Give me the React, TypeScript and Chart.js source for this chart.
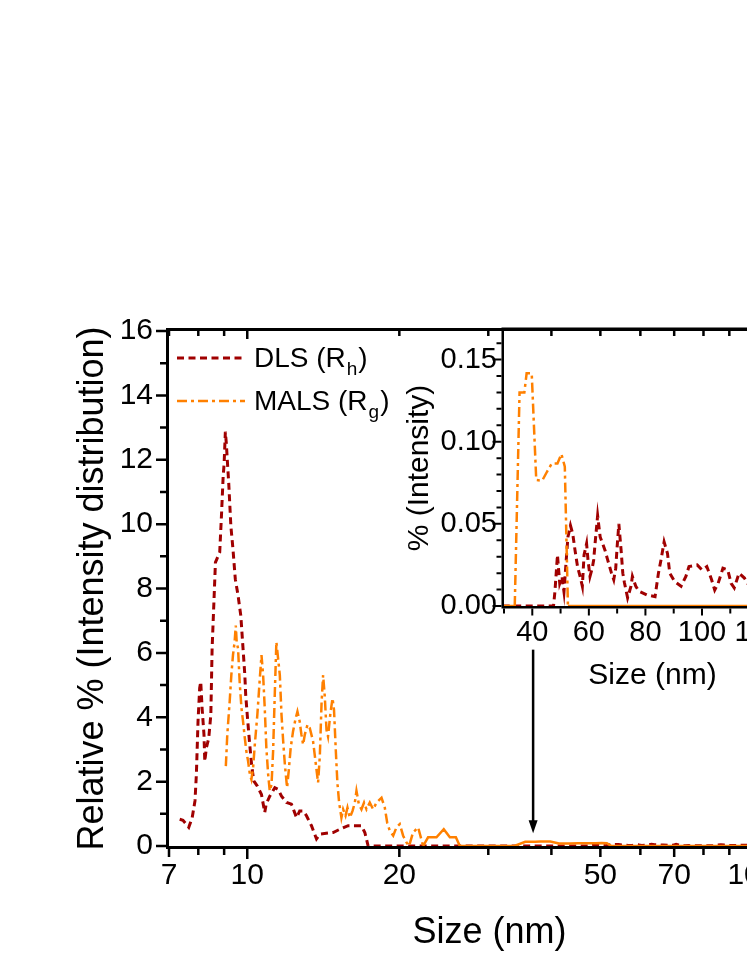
import React, { useEffect, useRef } from "react";
import { Chart, registerables } from "chart.js";

Chart.register(...registerables);

const FONT = '"Liberation Sans", Arial, Helvetica, sans-serif';
const DLS_COLOR = "#a00000";
const MALS_COLOR = "#ff8000";
const DLS_DASH = [7, 4.5];
const MALS_DASH = [10, 4, 3, 4];

// DLS (Rh) size distribution (nm, relative %)
const DLS_SIZE = [
  7.35, 7.46, 7.66, 7.78, 7.88, 7.93, 7.99, 8.05, 8.09, 8.14, 8.21, 8.24, 8.3, 8.39, 8.47, 8.52, 8.6, 8.65, 8.73,
  8.82, 8.89, 8.96, 9.0, 9.05, 9.09, 9.13, 9.19, 9.28, 9.37, 9.47, 9.59, 9.71, 9.81, 9.89, 9.93, 10.0, 10.1, 10.2,
  10.3, 10.47, 10.67, 10.83, 10.9, 11.08, 11.34, 11.51, 11.69, 11.96, 12.23, 12.52, 12.7, 12.9, 13.1, 13.4, 13.71,
  13.92, 14.79, 15.25, 15.84, 16.83, 17.09, 17.35, 30, 47.5,
  48.0, 48.9, 49.7, 50.5, 51.2, 52.0, 52.6, 53.5, 54.3, 55.1, 56.0, 56.9, 57.7, 58.3, 59.2, 59.7, 60.4, 61.2, 61.7,
  62.3, 63.1, 64.0, 65.7, 66.5, 68.0, 68.8, 69.5, 70.0, 70.6, 71.4, 72.0, 72.6, 73.7, 74.9, 75.4, 76.6, 77.7, 80.6,
  83.4, 84.6, 85.5, 86.6, 87.8, 88.6, 90.3, 92.6, 94.3, 95.4, 98.3, 100.0, 101.7, 103.4, 104.5, 105.7, 107.4, 109.1,
  110.3, 111.4, 113.1, 115.0, 117.5, 120.0, 123.0, 126.0, 129.0, 132.0, 135.0,
];
const DLS_INT = [
  0.83, 0.8, 0.58, 0.88, 1.4, 2.22, 3.87, 4.9, 5.1, 4.28, 3.46, 2.63, 3.05, 3.35, 4.07, 6.13, 7.78, 8.81, 8.96,
  9.12, 10.25, 11.48, 11.89, 12.87, 12.51, 12.0, 11.28, 9.94, 9.22, 8.29, 7.78, 7.16, 6.13, 5.31, 4.69, 4.07, 3.25, 2.53,
  2.02, 1.86, 1.6, 1.04, 1.3, 1.55, 1.81, 1.76, 1.55, 1.35, 1.3, 0.88, 1.09, 1.09, 0.94, 0.63, 0.22,
  0.37, 0.42, 0.52, 0.63, 0.63, 0.42, 0, 0, 0,
  0.0087, 0.031, 0.0138, 0.0179, 0.0087, 0.028, 0.042, 0.049, 0.044, 0.034, 0.024, 0.018, 0.012, 0.031, 0.038, 0.028,
  0.018, 0.023, 0.028, 0.04, 0.055, 0.042, 0.034, 0.029, 0.02, 0.016, 0.023, 0.036, 0.05, 0.034, 0.02, 0.014, 0.005,
  0.012, 0.018, 0.012, 0.009, 0.0067, 0.0057, 0.02, 0.028, 0.039, 0.032, 0.02, 0.015, 0.012, 0.018, 0.024, 0.025,
  0.022, 0.024, 0.016, 0.0097, 0.0138, 0.023, 0.022, 0.0138, 0.011, 0.02, 0.017, 0.01, 0.016, 0.021, 0.012, 0.018,
  0.01, 0.014,
];

// MALS (Rg) size distribution (nm, relative %)
const MALS_SIZE = [
  9.07, 9.13, 9.23, 9.3, 9.37, 9.44, 9.49, 9.53, 9.59, 9.66, 9.74, 9.81, 9.89, 9.96, 10.04, 10.12, 10.19, 10.27,
  10.35, 10.47, 10.59, 10.67, 10.75, 10.83, 10.91, 11.0, 11.08, 11.17, 11.25, 11.34, 11.42, 11.51, 11.6, 11.69,
  11.78, 11.87, 11.99, 12.08, 12.19, 12.32, 12.47, 12.57, 12.7, 12.8, 12.9, 13.0, 13.16, 13.3, 13.5, 13.66, 13.81,
  13.92, 14.03, 14.13, 14.24, 14.35, 14.45, 14.61, 14.75, 14.85, 14.97, 15.08, 15.2, 15.36, 15.48, 15.65, 15.79,
  15.96, 16.16, 16.33, 16.45, 16.63, 16.83, 17.03, 17.22, 17.48, 17.75, 18.03, 18.44, 18.72, 18.92, 19.15, 19.45,
  19.74, 20.04, 20.35, 20.66, 20.91, 21.29, 21.79, 22.29, 22.8, 23.69, 24.49, 25.18, 25.88, 26.35, 33.8, 35.5,
  37.2, 38.0, 39.8, 41.4, 43.5, 45.2, 46.9, 48.9, 50.3, 51.5, 52.6, 135,
];
const MALS_INT = [
  2.48, 3.46, 4.49, 5.31, 5.93, 6.34, 6.85, 6.34, 6.13, 5.1, 4.28, 3.87, 3.35, 2.94, 2.63, 2.22, 2.07, 2.43,
  3.15, 4.07, 5.21, 5.93, 5.31, 4.28, 3.05, 2.22, 1.71, 1.91, 2.94, 4.79, 6.34, 5.82, 5.31, 4.07,
  3.25, 2.53, 1.81, 2.33, 3.05, 3.56, 3.97, 4.18, 3.87, 3.46, 3.15, 3.46, 3.77, 3.66, 3.25, 2.58, 1.97,
  2.79, 4.43, 5.31, 4.64, 3.61, 3.4, 4.13, 4.59, 4.23, 2.99, 1.97, 1.35, 0.88, 1.14, 0.94, 1.19,
  0.88, 1.09, 1.35, 1.71, 1.3, 1.14, 1.35, 1.14, 1.35, 1.14, 1.35, 1.5, 1.19, 0.73, 0.47, 0.32,
  0.58, 0.68, 0.32, 0.11, 0, 0.42, 0.58, 0, 0.27, 0.27, 0.52, 0.27, 0.27, 0, 0, 0.13,
  0.13, 0.1416, 0.1416, 0.0767, 0.0763, 0.0817, 0.0868, 0.0868, 0.0925, 0.0848, 0, 0,
];
const MALS_SOLID_FROM = 22.2;

// axes
const MAIN_X_MIN = 7;
const MAIN_X_MAX = 130;
const MAIN_X_TICKS = [7, 8, 9, 10, 20, 30, 40, 50, 60, 70, 80, 90, 100];
const MAIN_X_LABELS = [7, 10, 20, 50, 70, 100];
const MAIN_X_DECADES = [10, 100];
const MAIN_Y_MAX = 16;
const MAIN_Y_STEP = 2;

const INSET_X_MIN = 30;
const INSET_X_MAX = 135;
const INSET_X_STEP = 10;
const INSET_X_LABELS = [40, 60, 80, 100, 120];
const INSET_Y_MAX = 0.168;
const INSET_Y_TICKS = [0, 0.05, 0.1, 0.15];
const INSET_Y_STEP = 0.05;
const INSET_Y_MINOR = 0.01;

// annotation arrow (size in nm, from/to in %)
const ARROW = { size: 36.8, from: 6.1, to: 0.4 };

const LEGEND = [
  { text: "DLS (R", sub: "h", color: DLS_COLOR, dash: DLS_DASH, width: 3 },
  { text: "MALS (R", sub: "g", color: MALS_COLOR, dash: MALS_DASH, width: 2.5 },
];

const toPts = (xs: number[], ys: number[]) => xs.map((x, i) => ({ x, y: ys[i] }));

function subText(ctx: CanvasRenderingContext2D, x: number, y: number, t: string, sub: string, size: number, subSize: number) {
  ctx.font = `${size}px ${FONT}`;
  ctx.fillText(t, x, y);
  let w = ctx.measureText(t).width;
  ctx.font = `${subSize}px ${FONT}`;
  ctx.fillText(sub, x + w + 1, y + 8);
  w += ctx.measureText(sub).width + 2;
  ctx.font = `${size}px ${FONT}`;
  ctx.fillText(")", x + w, y);
}

const mainDecor = {
  id: "mainDecor",
  beforeDatasetsDraw(chart: any) {
    const { ctx, chartArea: a } = chart;
    const xs = chart.scales.x;
    const ys = chart.scales.y;
    ctx.save();
    ctx.strokeStyle = "#000";
    ctx.lineWidth = 3;
    ctx.beginPath();
    ctx.moveTo(a.left - 1.5, a.top - 3);
    ctx.lineTo(a.left - 1.5, a.bottom + 3);
    ctx.moveTo(a.left - 3, a.bottom + 1.5);
    ctx.lineTo(a.right + 1.5, a.bottom + 1.5);
    ctx.moveTo(a.left - 3, a.top - 1.5);
    ctx.lineTo(a.right + 1.5, a.top - 1.5);
    ctx.moveTo(a.right, a.top - 3);
    ctx.lineTo(a.right, a.bottom + 3);
    ctx.stroke();
    ctx.lineWidth = 2.5;
    ctx.beginPath();
    for (let v = 0; v <= MAIN_Y_MAX; v += 1) {
      const py = ys.getPixelForValue(v);
      const len = v % MAIN_Y_STEP === 0 ? 10 : 6;
      ctx.moveTo(a.left - 3, py);
      ctx.lineTo(a.left - 3 - len, py);
    }
    for (const v of MAIN_X_TICKS) {
      const px = xs.getPixelForValue(v);
      const dec = MAIN_X_DECADES.includes(v);
      const len = dec ? 10 : MAIN_X_LABELS.includes(v) ? 8 : 6;
      ctx.moveTo(px, a.bottom + 3);
      ctx.lineTo(px, a.bottom + 3 + len);
      ctx.moveTo(px, a.top);
      ctx.lineTo(px, a.top + (dec ? 8 : 5));
    }
    ctx.stroke();
    ctx.restore();
  },
  afterDraw(chart: any) {
    const { ctx, chartArea: a } = chart;
    const xs = chart.scales.x;
    const ys = chart.scales.y;
    ctx.save();
    // legend
    LEGEND.forEach((item, i) => {
      const ly = a.top + 27 + i * 43;
      ctx.strokeStyle = item.color;
      ctx.lineWidth = item.width;
      ctx.setLineDash(item.dash);
      ctx.beginPath();
      ctx.moveTo(a.left + 8, ly);
      ctx.lineTo(a.left + 76, ly);
      ctx.stroke();
      ctx.setLineDash([]);
      ctx.fillStyle = "#000";
      ctx.textBaseline = "alphabetic";
      ctx.textAlign = "left";
      subText(ctx, a.left + 85, ly + 9, item.text, item.sub, 28, 19);
    });
    // arrow
    const ax = xs.getPixelForValue(ARROW.size);
    const y0 = ys.getPixelForValue(ARROW.from);
    const y1 = ys.getPixelForValue(ARROW.to);
    ctx.strokeStyle = "#000";
    ctx.fillStyle = "#000";
    ctx.lineWidth = 2.5;
    ctx.beginPath();
    ctx.moveTo(ax, y0);
    ctx.lineTo(ax, y1 - 10);
    ctx.stroke();
    ctx.beginPath();
    ctx.moveTo(ax - 4.5, y1 - 13);
    ctx.lineTo(ax + 4.5, y1 - 13);
    ctx.lineTo(ax, y1);
    ctx.closePath();
    ctx.fill();
    ctx.restore();
  },
};

const insetDecor = {
  id: "insetDecor",
  beforeDatasetsDraw(chart: any) {
    const { ctx, chartArea: a } = chart;
    const xs = chart.scales.x;
    const ys = chart.scales.y;
    ctx.save();
    ctx.strokeStyle = "#000";
    ctx.lineWidth = 2.5;
    ctx.beginPath();
    ctx.moveTo(a.left - 1.25, a.top - 2.5);
    ctx.lineTo(a.left - 1.25, a.bottom + 2.5);
    ctx.moveTo(a.left - 2.5, a.bottom + 1.25);
    ctx.lineTo(a.right + 1.25, a.bottom + 1.25);
    ctx.moveTo(a.left - 2.5, a.top - 1.25);
    ctx.lineTo(a.right + 1.25, a.top - 1.25);
    ctx.moveTo(a.right, a.top - 2.5);
    ctx.lineTo(a.right, a.bottom + 2.5);
    ctx.stroke();
    ctx.lineWidth = 2;
    ctx.beginPath();
    const nY = Math.floor(INSET_Y_MAX / INSET_Y_MINOR + 1e-6);
    const per = Math.round(INSET_Y_STEP / INSET_Y_MINOR);
    for (let k = 0; k <= nY; k++) {
      const py = ys.getPixelForValue(k * INSET_Y_MINOR);
      const len = k % per === 0 ? 9 : 5;
      ctx.moveTo(a.left - 2.5, py);
      ctx.lineTo(a.left - 2.5 - len, py);
    }
    for (let v = INSET_X_MIN; v <= INSET_X_MAX; v += INSET_X_STEP) {
      const px = xs.getPixelForValue(v);
      const len = INSET_X_LABELS.includes(v) ? 7 : 5;
      ctx.moveTo(px, a.bottom + 2.5);
      ctx.lineTo(px, a.bottom + 2.5 + len);
    }
    ctx.stroke();
    ctx.restore();
  },
};

export default function App() {
  const mainRef = useRef<HTMLCanvasElement>(null);
  const insetRef = useRef<HTMLCanvasElement>(null);

  useEffect(() => {
    const tickFont = { family: FONT, size: 30 };
    const main = new Chart(mainRef.current as HTMLCanvasElement, {
      type: "line",
      data: {
        datasets: [
          {
            label: "MALS (Rg)",
            data: toPts(MALS_SIZE, MALS_INT),
            borderColor: MALS_COLOR,
            borderWidth: 2.5,
            borderDash: MALS_DASH,
            pointRadius: 0,
            fill: false,
            tension: 0,
            segment: {
              borderDash: (c: any) => (c.p0.parsed.x >= MALS_SOLID_FROM ? [] : undefined),
            },
          } as any,
          {
            label: "DLS (Rh)",
            data: toPts(DLS_SIZE, DLS_INT),
            borderColor: DLS_COLOR,
            borderWidth: 3,
            borderDash: DLS_DASH,
            pointRadius: 0,
            fill: false,
            tension: 0,
          },
        ],
      },
      options: {
        animation: false,
        responsive: false,
        devicePixelRatio: 1,
        events: [],
        layout: { padding: { top: 331, right: 1, left: 0, bottom: 0 } },
        plugins: { legend: { display: false }, tooltip: { enabled: false } },
        scales: {
          x: {
            type: "logarithmic",
            min: MAIN_X_MIN,
            max: MAIN_X_MAX,
            afterBuildTicks: (s: any) => {
              s.ticks = MAIN_X_TICKS.map((v) => ({ value: v }));
            },
            afterFit: (s: any) => {
              s.height = 121;
            },
            grid: { display: false, drawTicks: false },
            border: { display: false },
            ticks: {
              autoSkip: false,
              maxRotation: 0,
              minRotation: 0,
              padding: 12,
              color: "#000",
              font: tickFont,
              callback: (v: any) => (MAIN_X_LABELS.includes(Number(v)) ? String(v) : ""),
            },
            title: {
              display: true,
              text: "Size (nm)",
              color: "#000",
              font: { family: FONT, size: 36 },
              padding: { top: 0, bottom: 12 },
            },
          },
          y: {
            type: "linear",
            min: 0,
            max: MAIN_Y_MAX,
            afterFit: (s: any) => {
              s.width = 169;
            },
            grid: { display: false, drawTicks: false },
            border: { display: false },
            ticks: { stepSize: MAIN_Y_STEP, autoSkip: false, padding: 16, color: "#000", font: tickFont },
            title: {
              display: true,
              text: "Relative % (Intensity distribution)",
              color: "#000",
              font: { family: FONT, size: 36 },
              padding: { top: 71, bottom: 0 },
            },
          },
        },
      },
      plugins: [mainDecor],
    } as any);

    const insetFont = { family: FONT, size: 29 };
    const inset = new Chart(insetRef.current as HTMLCanvasElement, {
      type: "line",
      data: {
        datasets: [
          {
            label: "MALS (Rg)",
            data: toPts(MALS_SIZE, MALS_INT),
            borderColor: MALS_COLOR,
            borderWidth: 2.5,
            borderDash: MALS_DASH,
            pointRadius: 0,
            fill: false,
            tension: 0,
            segment: {
              borderDash: (c: any) => (c.p0.parsed.y === 0 && c.p1.parsed.y === 0 ? [] : undefined),
            },
          } as any,
          {
            label: "DLS (Rh)",
            data: toPts(DLS_SIZE, DLS_INT),
            borderColor: DLS_COLOR,
            borderWidth: 3,
            borderDash: DLS_DASH,
            pointRadius: 0,
            fill: false,
            tension: 0,
          },
        ],
      },
      options: {
        animation: false,
        responsive: false,
        devicePixelRatio: 1,
        events: [],
        layout: { padding: { top: 330, right: 0, left: 0, bottom: 0 } },
        plugins: { legend: { display: false }, tooltip: { enabled: false } },
        scales: {
          x: {
            type: "linear",
            min: INSET_X_MIN,
            max: INSET_X_MAX,
            afterFit: (s: any) => {
              s.height = 114;
            },
            grid: { display: false, drawTicks: false },
            border: { display: false },
            ticks: {
              stepSize: INSET_X_STEP,
              autoSkip: false,
              maxRotation: 0,
              minRotation: 0,
              padding: 10,
              color: "#000",
              font: insetFont,
              callback: (v: any) => (INSET_X_LABELS.includes(Number(v)) ? String(v) : ""),
            },
            title: {
              display: true,
              text: "Size (nm)",
              color: "#000",
              font: { family: FONT, size: 30 },
              padding: { top: 0, bottom: 26 },
            },
          },
          y: {
            type: "linear",
            min: 0,
            max: INSET_Y_MAX,
            afterBuildTicks: (s: any) => {
              s.ticks = INSET_Y_TICKS.map((v) => ({ value: v }));
            },
            afterFit: (s: any) => {
              s.width = 504;
            },
            grid: { display: false, drawTicks: false },
            border: { display: false },
            ticks: {
              autoSkip: false,
              padding: 7,
              color: "#000",
              font: insetFont,
              callback: (v: any) => Number(v).toFixed(2),
            },
            title: {
              display: true,
              text: "% (Intensity)",
              color: "#000",
              font: { family: FONT, size: 30 },
              padding: { top: 402, bottom: 0 },
            },
          },
        },
      },
      plugins: [insetDecor],
    } as any);

    return () => {
      main.destroy();
      inset.destroy();
    };
  }, []);

  return (
    <div
      style={{
        position: "fixed",
        left: 0,
        top: 0,
        width: 747,
        height: 967,
        overflow: "hidden",
        background: "#fff",
      }}
    >
      <canvas
        ref={mainRef}
        width={811}
        height={967}
        style={{ position: "absolute", left: 0, top: 0, width: 811, height: 967 }}
      />
      <canvas
        ref={insetRef}
        width={811}
        height={720}
        style={{ position: "absolute", left: 0, top: 0, width: 811, height: 720 }}
      />
    </div>
  );
}
